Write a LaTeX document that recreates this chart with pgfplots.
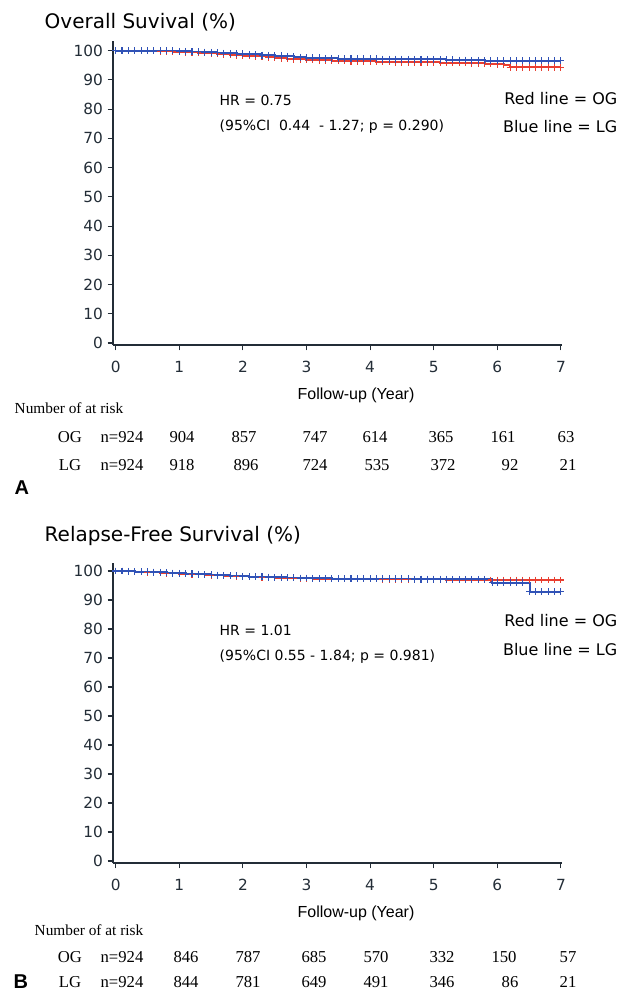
\documentclass[border=0pt]{standalone}
\usepackage{fontspec}
\setmainfont{DejaVu Sans}
\newfontfamily\timesf{Liberation Serif}
\newfontfamily\arialf{Liberation Sans}
\usepackage{pgfplots}
\pgfplotsset{compat=1.18}
\definecolor{ogred}{RGB}{232,62,48}
\definecolor{lgblue}{RGB}{48,82,182}
\definecolor{axiscol}{RGB}{35,45,55}

\pgfplotsset{
  kmaxis/.style={
    scale only axis, width=336.75pt,
    xmin=-0.042, xmax=7.017,
    axis x line*=bottom, axis y line*=left,
    xtick={0,1,...,7}, ytick={0,10,...,100},
    tick align=outside, major tick length=4pt,
    axis line style={line width=1pt, axiscol},
    tick style={line width=0.8pt, axiscol},
    ticklabel style={font=\fontsize{11.5}{13}\selectfont, text=axiscol},
    xticklabel style={yshift=-4.5pt},
    /pgf/number format/assume math mode=true,
    clip=false,
  },
  ogline/.style={const plot, draw=ogred, line width=1.5pt, mark=+, mark size=2.6pt,
    mark options={line width=0.8pt, ogred}},
  lgline/.style={const plot, draw=lgblue, line width=1.5pt, mark=+, mark size=2.6pt,
    mark options={line width=0.8pt, lgblue}},
}

\newcommand{\px}{0.75pt}
\newcommand{\riskrow}[2]{%
  \foreach \x/\t in {#2} {\node[font=\timesf\fontsize{12.5}{14}\selectfont, inner sep=1pt] at ({\x*\px},{-#1*\px}) {\t};}}

\begin{document}
\begin{tikzpicture}
\useasboundingbox (0,0) rectangle ({624*\px},{-992*\px});

% ---- A: overall survival
\begin{axis}[kmaxis, at={(84.75pt,-258.75pt)}, anchor=south west,
    height=228pt, ymin=-0.68, ymax=103.3]
  \addplot[ogline] coordinates {
    (0,100)(0.1,100)(0.2,100)(0.3,100)(0.4,100)(0.5,99.9)(0.6,99.9)(0.7,99.8)(0.8,99.8)(0.9,99.7)
    (1.0,99.6)(1.1,99.5)(1.2,99.4)(1.3,99.3)(1.4,99.2)(1.5,99.1)(1.6,98.9)(1.7,98.8)(1.8,98.6)(1.9,98.5)
    (2.0,98.3)(2.1,98.2)(2.2,98.1)(2.3,98.0)(2.4,97.8)(2.5,97.6)(2.6,97.4)(2.7,97.2)(2.8,97.1)(2.9,97.0)
    (3.0,96.9)(3.1,96.8)(3.2,96.7)(3.3,96.7)(3.4,96.6)(3.5,96.5)(3.6,96.5)(3.7,96.4)(3.8,96.4)(3.9,96.3)
    (4.0,96.3)(4.1,96.2)(4.2,96.2)(4.3,96.2)(4.4,96.1)(4.5,96.1)(4.6,96.1)(4.7,96.1)(4.8,96.0)(4.9,96.0)
    (5.0,96.0)(5.1,95.9)(5.2,95.9)(5.3,95.9)(5.4,95.8)(5.5,95.8)(5.6,95.7)(5.7,95.7)(5.8,95.6)(5.9,95.5)
    (6.0,95.4)(6.1,95.2)(6.2,94.3)(6.3,94.3)(6.4,94.3)(6.5,94.3)(6.6,94.3)(6.7,94.3)(6.8,94.3)(6.9,94.3)
    (7.0,94.3)};
  \addplot[lgline] coordinates {
    (0,100)(0.1,100)(0.2,100)(0.3,100)(0.4,100)(0.5,100)(0.6,100)(0.7,100)(0.8,99.9)(0.9,99.9)
    (1.0,99.8)(1.1,99.8)(1.2,99.7)(1.3,99.6)(1.4,99.5)(1.5,99.4)(1.6,99.3)(1.7,99.2)(1.8,99.1)(1.9,99.0)
    (2.0,98.9)(2.1,98.8)(2.2,98.7)(2.3,98.5)(2.4,98.4)(2.5,98.3)(2.6,98.2)(2.7,98.1)(2.8,97.9)(2.9,97.8)
    (3.0,97.6)(3.1,97.5)(3.2,97.5)(3.3,97.4)(3.4,97.4)(3.5,97.3)(3.6,97.3)(3.7,97.3)(3.8,97.2)(3.9,97.2)
    (4.0,97.2)(4.1,97.2)(4.2,97.1)(4.3,97.1)(4.4,97.1)(4.5,97.1)(4.6,97.0)(4.7,97.0)(4.8,97.0)(4.9,97.0)
    (5.0,97.0)(5.1,97.0)(5.2,96.9)(5.3,96.9)(5.4,96.8)(5.5,96.8)(5.6,96.7)(5.7,96.7)(5.8,96.6)(5.9,96.6)
    (6.0,96.5)(6.1,96.5)(6.2,96.5)(6.3,96.5)(6.4,96.5)(6.5,96.5)(6.6,96.5)(6.7,96.5)(6.8,96.5)(6.9,96.5)
    (7.0,96.5)};
\end{axis}

% ---- B: relapse-free survival
\begin{axis}[kmaxis, at={(84.75pt,-647.25pt)}, anchor=south west,
    height=225pt, ymin=-0.69, ymax=102.76]
  \addplot[ogline] coordinates {
    (0,100)(0.1,100)(0.2,99.9)(0.3,99.8)(0.4,99.7)(0.5,99.6)(0.6,99.5)(0.7,99.4)(0.8,99.3)(0.9,99.2)
    (1.0,99.1)(1.1,99.0)(1.2,98.9)(1.3,98.8)(1.4,98.7)(1.5,98.6)(1.6,98.5)(1.7,98.4)(1.8,98.3)(1.9,98.2)
    (2.0,98.2)(2.1,98.1)(2.2,98.0)(2.3,97.9)(2.4,97.8)(2.5,97.7)(2.6,97.7)(2.7,97.6)(2.8,97.6)(2.9,97.5)
    (3.0,97.5)(3.1,97.4)(3.2,97.4)(3.3,97.4)(3.4,97.4)(3.5,97.4)(3.6,97.3)(3.7,97.3)(3.8,97.3)(3.9,97.3)
    (4.0,97.3)(4.1,97.3)(4.2,97.2)(4.3,97.2)(4.4,97.2)(4.5,97.2)(4.6,97.2)(4.7,97.1)(4.8,97.1)(4.9,97.1)
    (5.0,97.1)(5.1,97.1)(5.2,97.0)(5.3,97.0)(5.4,97.0)(5.5,97.0)(5.6,96.9)(5.7,96.9)(5.8,96.9)(5.9,96.9)
    (6.0,96.9)(6.1,96.9)(6.2,96.9)(6.3,96.9)(6.4,96.9)(6.5,96.9)(6.6,96.9)(6.7,96.9)(6.8,96.9)(6.9,96.9)
    (7.0,96.9)};
  \addplot[lgline] coordinates {
    (0,100)(0.1,100)(0.2,99.9)(0.3,99.8)(0.4,99.8)(0.5,99.7)(0.6,99.6)(0.7,99.5)(0.8,99.4)(0.9,99.3)
    (1.0,99.2)(1.1,99.1)(1.2,99.0)(1.3,98.9)(1.4,98.8)(1.5,98.7)(1.6,98.6)(1.7,98.5)(1.8,98.4)(1.9,98.3)
    (2.0,98.2)(2.1,98.1)(2.2,98.0)(2.3,98.0)(2.4,97.9)(2.5,97.8)(2.6,97.8)(2.7,97.7)(2.8,97.7)(2.9,97.6)
    (3.0,97.6)(3.1,97.5)(3.2,97.5)(3.3,97.5)(3.4,97.4)(3.5,97.4)(3.6,97.4)(3.7,97.4)(3.8,97.4)(3.9,97.4)
    (4.0,97.3)(4.1,97.3)(4.2,97.3)(4.3,97.3)(4.4,97.3)(4.5,97.3)(4.6,97.3)(4.7,97.2)(4.8,97.2)(4.9,97.2)
    (5.0,97.2)(5.1,97.2)(5.2,97.2)(5.3,97.1)(5.4,97.1)(5.5,97.1)(5.6,97.1)(5.7,97.1)(5.8,97.1)(5.92,95.9)
    (6.0,95.9)(6.1,95.9)(6.2,95.9)(6.3,95.9)(6.4,95.9)(6.51,92.9)(6.6,92.9)(6.7,92.9)(6.8,92.9)(6.9,92.9)
    (7.0,92.9)};
\end{axis}

% ---- texts, panel A
\node[anchor=west, font=\fontsize{15}{17}\selectfont] at ({40*\px},{-22*\px}) {Overall Suvival (\%)};
\node[anchor=west, font=\fontsize{10.5}{12}\selectfont] at ({215*\px},{-100*\px}) {HR = 0.75};
\node[anchor=west, font=\fontsize{10.5}{12}\selectfont] at ({215*\px},{-127*\px}) {(95\%CI\ \ 0.44\ \ - 1.27; p = 0.290)};
\node[anchor=east, font=\fontsize{12}{14}\selectfont] at ({622*\px},{-99*\px}) {Red line = OG};
\node[anchor=east, font=\fontsize{12}{14}\selectfont] at ({622*\px},{-127*\px}) {Blue line = LG};
\node[font=\arialf\fontsize{12}{14}\selectfont] at ({356*\px},{-395*\px}) {Follow-up (Year)};
\node[anchor=west, font=\timesf\fontsize{11.5}{13}\selectfont] at ({10*\px},{-408*\px}) {Number of at risk};
\riskrow{437}{70/OG,122/n=924,182/904,244/857,315/747,375/614,441/365,503/161,566/63}
\riskrow{465}{70/LG,122/n=924,182/918,246/896,315/724,377/535,443/372,510/92,568/21}
\node[anchor=west, font=\arialf\bfseries\fontsize{15}{17}\selectfont] at ({10*\px},{-488*\px}) {A};

% ---- texts, panel B
\node[anchor=west, font=\fontsize{15}{17}\selectfont] at ({40*\px},{-536*\px}) {Relapse-Free Survival (\%)};
\node[anchor=west, font=\fontsize{10.5}{12}\selectfont] at ({215*\px},{-630*\px}) {HR = 1.01};
\node[anchor=west, font=\fontsize{10.5}{12}\selectfont] at ({215*\px},{-657*\px}) {(95\%CI 0.55 - 1.84; p = 0.981)};
\node[anchor=east, font=\fontsize{12}{14}\selectfont] at ({622*\px},{-621*\px}) {Red line = OG};
\node[anchor=east, font=\fontsize{12}{14}\selectfont] at ({622*\px},{-650*\px}) {Blue line = LG};
\node[font=\arialf\fontsize{12}{14}\selectfont] at ({356*\px},{-913*\px}) {Follow-up (Year)};
\node[anchor=west, font=\timesf\fontsize{11.5}{13}\selectfont] at ({30*\px},{-930*\px}) {Number of at risk};
\riskrow{957}{70/OG,122/n=924,186/846,248/787,314/685,376/570,442/332,504/150,568/57}
\riskrow{982}{70/LG,122/n=924,186/844,248/781,314/649,376/491,442/346,510/86,568/21}
\node[anchor=west, font=\arialf\bfseries\fontsize{15}{17}\selectfont, inner sep=1pt] at ({12*\px},{-982*\px}) {B};
\end{tikzpicture}
\end{document}
